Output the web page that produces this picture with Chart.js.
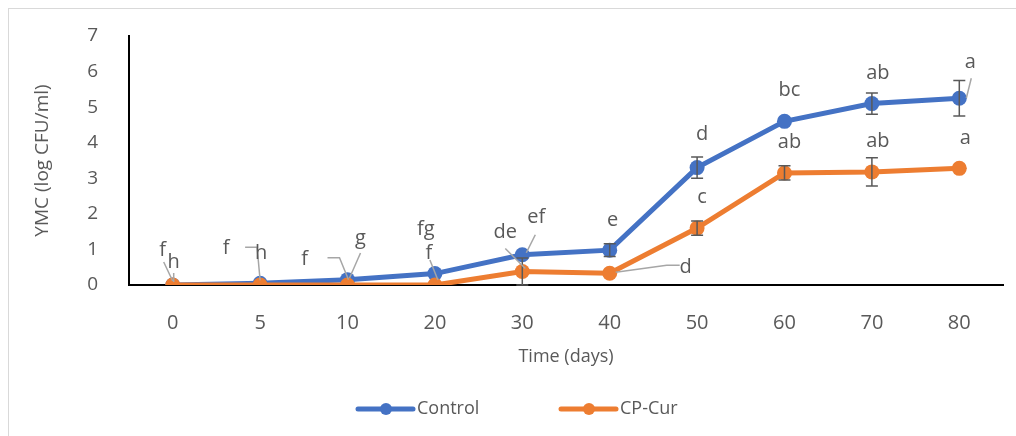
<!DOCTYPE html>
<html>
<head>
<meta charset="utf-8">
<script src="https://cdn.jsdelivr.net/npm/chart.js@4.4.0/dist/chart.umd.min.js"></script>
<style>
  html, body { margin: 0; padding: 0; background: #fff; }
  #wrap { width: 1016px; height: 436px; }
</style>
</head>
<body>
<div id="wrap"><canvas id="ymcChart" width="1016" height="436"></canvas></div>
<script>
// Yeast & mould counts over storage time
const days = ['0', '5', '10', '20', '30', '40', '50', '60', '70', '80'];
const controlMean = [0, 0.05, 0.15, 0.32, 0.85, 0.98, 3.3, 4.6, 5.1, 5.25];
const controlErr  = [0, 0, 0, 0, 0, 0.18, 0.3, 0, 0.3, 0.5];
const cpCurMean   = [0, 0, 0, 0, 0.38, 0.33, 1.6, 3.15, 3.18, 3.28];
const cpCurErr    = [0, 0, 0, 0, 0.38, 0, 0.2, 0.2, 0.4, 0];
const controlLetters = ['f', 'f', 'f', 'fg', 'ef', 'e', 'd', 'bc', 'ab', 'a'];
const cpCurLetters   = ['h', 'h', 'g', 'f', 'de', 'd', 'c', 'ab', 'ab', 'a'];
const yTicks = [0, 1, 2, 3, 4, 5, 6, 7];

// label placement relative to the point (pixels), with optional leader lines
const controlLabelPos = [
  { dx: -10, dy: -35, leader: [[-9, -23], [0, -4]] },
  { dx: -34, dy: -35, leader: [[-15, -36], [-3, -36], [0, -3]] },
  { dx: -43, dy: -20, leader: [[-20, -22], [-8, -22], [1, 0]] },
  { dx: -9, dy: -44 },
  { dx: 14, dy: -37, leader: [[13, -20], [4, -2]] },
  { dx: 3, dy: -30 },
  { dx: 5, dy: -33 },
  { dx: 5, dy: -31 },
  { dx: 6, dy: -30 },
  { dx: 11, dy: -36, leader: [[12, -20], [7, 0]] }
];
const cpCurLabelPos = [
  { dx: 1, dy: -23, leader: [[1, -12], [1, -3]] },
  { dx: 1, dy: -32 },
  { dx: 13, dy: -47, leader: [[13, -32], [2, -7]] },
  { dx: -6, dy: -32, leader: [[-5, -25], [3, -5]] },
  { dx: -17, dy: -39, leader: [[-17, -23], [3, -3]] },
  { dx: 76, dy: -6, leader: [[70, -8], [57, -8], [6, -1]] },
  { dx: 5, dy: -31 },
  { dx: 5, dy: -31 },
  { dx: 6, dy: -31 },
  { dx: 6, dy: -30 }
];

const FONT = "'Open Sans', sans-serif";
const TEXT = '#595959';
const BLUE = '#4472C4';
const ORANGE = '#ED7D31';

const frameAndLegend = {
  id: 'frameAndLegend',
  beforeDraw(chart) {
    const ctx = chart.ctx;
    ctx.save();
    ctx.strokeStyle = '#d9d9d9';
    ctx.lineWidth = 1;
    ctx.strokeRect(8.5, 8.5, 1020, 450);
    ctx.restore();
  },
  afterDraw(chart) {
    const ctx = chart.ctx;
    const items = [
      { text: 'Control', color: BLUE, x: 358 },
      { text: 'CP-Cur', color: ORANGE, x: 561 }
    ];
    const y = 409;
    ctx.save();
    items.forEach(it => {
      ctx.strokeStyle = it.color;
      ctx.lineWidth = 5;
      ctx.lineCap = 'round';
      ctx.beginPath();
      ctx.moveTo(it.x, y);
      ctx.lineTo(it.x + 55, y);
      ctx.stroke();
      ctx.fillStyle = it.color;
      ctx.beginPath();
      ctx.arc(it.x + 28, y, 6, 0, Math.PI * 2);
      ctx.fill();
      ctx.fillStyle = TEXT;
      ctx.font = '18px ' + FONT;
      ctx.textAlign = 'left';
      ctx.textBaseline = 'middle';
      ctx.fillText(it.text, it.x + 59, y);
    });
    ctx.restore();
  }
};

const errorsAndLetters = {
  id: 'errorsAndLetters',
  afterDatasetsDraw(chart) {
    const ctx = chart.ctx;
    const yScale = chart.scales.y;
    const xScale = chart.scales.x;
    const sets = [
      { means: controlMean, errs: controlErr, letters: controlLetters, pos: controlLabelPos },
      { means: cpCurMean, errs: cpCurErr, letters: cpCurLetters, pos: cpCurLabelPos }
    ];
    ctx.save();
    // error bars
    ctx.strokeStyle = '#595959';
    ctx.lineWidth = 1.5;
    sets.forEach(s => {
      s.means.forEach((m, i) => {
        const e = s.errs[i];
        if (!e) return;
        const x = xScale.getPixelForValue(i);
        const yTop = yScale.getPixelForValue(m + e);
        const yBot = yScale.getPixelForValue(Math.max(0, m - e));
        ctx.beginPath();
        ctx.moveTo(x, yTop); ctx.lineTo(x, yBot);
        ctx.moveTo(x - 6, yTop); ctx.lineTo(x + 6, yTop);
        ctx.moveTo(x - 6, yBot); ctx.lineTo(x + 6, yBot);
        ctx.stroke();
      });
    });
    // letters with leader lines
    ctx.font = '20px ' + FONT;
    ctx.textAlign = 'center';
    ctx.textBaseline = 'middle';
    sets.forEach(s => {
      s.means.forEach((m, i) => {
        const x = xScale.getPixelForValue(i);
        const y = yScale.getPixelForValue(m);
        const p = s.pos[i];
        if (p.leader) {
          ctx.strokeStyle = '#a6a6a6';
          ctx.lineWidth = 1.5;
          ctx.beginPath();
          p.leader.forEach((pt, k) => {
            if (k === 0) ctx.moveTo(x + pt[0], y + pt[1]);
            else ctx.lineTo(x + pt[0], y + pt[1]);
          });
          ctx.stroke();
        }
        ctx.fillStyle = TEXT;
        ctx.fillText(s.letters[i], x + p.dx, y + p.dy);
      });
    });
    ctx.restore();
  }
};

new Chart(document.getElementById('ymcChart'), {
  type: 'line',
  data: {
    labels: days,
    datasets: [
      {
        label: 'Control',
        data: controlMean,
        borderColor: BLUE,
        backgroundColor: BLUE,
        borderWidth: 5,
        pointRadius: 7.5,
        pointBorderWidth: 0,
        pointBackgroundColor: BLUE,
        tension: 0,
        order: 1
      },
      {
        label: 'CP-Cur',
        data: cpCurMean,
        borderColor: ORANGE,
        backgroundColor: ORANGE,
        borderWidth: 5,
        pointRadius: 7.5,
        pointBorderWidth: 0,
        pointBackgroundColor: ORANGE,
        tension: 0,
        order: 0
      }
    ]
  },
  options: {
    responsive: false,
    animation: false,
    layout: { padding: { left: 20, right: 13, top: 36, bottom: 0 } },
    scales: {
      x: {
        type: 'category',
        offset: true,
        grid: { display: false },
        border: { display: true, color: '#000', width: 2 },
        ticks: { color: TEXT, font: { family: FONT, size: 20 }, padding: 18, maxRotation: 0 },
        title: { display: true, text: 'Time (days)', color: TEXT, font: { family: FONT, size: 18 }, padding: { top: 0, bottom: 68 } },
        afterFit(scale) { scale.height = 151; }
      },
      y: {
        min: 0,
        max: 7,
        afterBuildTicks(scale) { scale.ticks = yTicks.map(v => ({ value: v })); },
        grid: { display: false },
        border: { display: true, color: '#000', width: 2 },
        ticks: { color: TEXT, font: { family: FONT, size: 19 }, padding: 23 },
        title: { display: true, text: 'YMC (log CFU/ml)', color: TEXT, font: { family: FONT, size: 19 }, padding: { top: 11, bottom: 0 } },
        afterFit(scale) { scale.width = 109; }
      }
    },
    plugins: {
      legend: { display: false },
      tooltip: { enabled: false }
    }
  },
  plugins: [frameAndLegend, errorsAndLetters]
});
</script>
</body>
</html>
